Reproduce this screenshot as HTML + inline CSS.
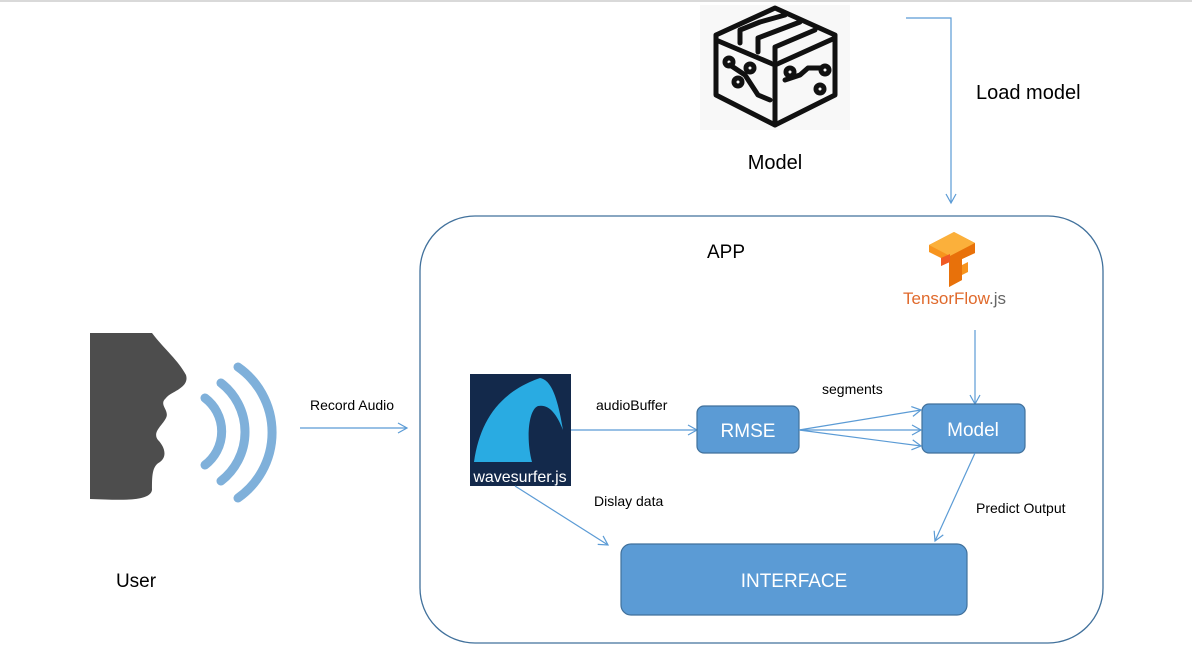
<!DOCTYPE html>
<html><head><meta charset="utf-8"><style>
html,body{margin:0;padding:0;background:#fff;width:1192px;height:667px;overflow:hidden}
text{font-family:"Liberation Sans",sans-serif}
</style></head><body>
<svg width="1192" height="667" viewBox="0 0 1192 667" xmlns="http://www.w3.org/2000/svg">
<defs>
<marker id="a" markerWidth="12" markerHeight="12" refX="10" refY="6" orient="auto" markerUnits="userSpaceOnUse">
<path d="M1,1 L10,6 L1,11" fill="none" stroke="#5b9bd5" stroke-width="1.2"/></marker>
</defs>
<line x1="0" y1="1" x2="1192" y2="1" stroke="#d9d9d9" stroke-width="2"/>
<!-- model icon -->
<rect x="700" y="5" width="150" height="125" fill="#f8f8f8"/>
<g fill="none" stroke="#111" stroke-width="5" stroke-linejoin="round" stroke-linecap="round">
<path d="M775,8 L835,35 L835,95 L775,125 L716,95 L716,35 Z"/>
<path d="M716,40 L775,65 L835,38"/><path d="M775,65 L775,125"/>
<path d="M740,43 L740,30 L760,22 L785,15"/><path d="M758,52 L758,38 L800,22"/><path d="M775,60 L775,47 L815,30"/>
<path d="M730,65 L745,75 L758,95 L770,100"/><circle cx="738" cy="82" r="4"/><circle cx="729" cy="62" r="4"/><circle cx="750" cy="68" r="4"/>
<path d="M785,80 L800,75 L808,68 L820,68"/><circle cx="790" cy="72" r="4"/><circle cx="820" cy="89" r="4"/><circle cx="825" cy="70" r="4"/>
</g>
<text x="775" y="169" font-size="20" text-anchor="middle" fill="#000">Model</text>
<polyline points="906,18 951,18 951,203" fill="none" stroke="#5b9bd5" stroke-width="1.2" marker-end="url(#a)"/>
<text x="976" y="99" font-size="20" fill="#000">Load model</text>
<!-- APP -->
<rect x="420" y="216" width="683" height="427" rx="55" fill="none" stroke="#41719c" stroke-width="1.3"/>
<text x="726" y="258" font-size="19" text-anchor="middle" fill="#000">APP</text>
<!-- tensorflow -->
<g>
<path d="M929,245 L954,232 L975,243 L975,253 L962,259 L962,265 L968,262 L968,272 L962,275 L962,280 L949,287 L949,262 L941,266 L941,258 L929,252 Z" fill="#f7941e"/>
<path d="M929,245 L954,232 L975,243 L950,256 Z" fill="#fbb03b"/>
<path d="M950,256 L975,243 L975,253 L962,259 L962,280 L949,287 L949,257 Z" fill="#e8710a"/>
<path d="M941,258 L950,254 L950,262 L941,266 Z" fill="#f15a24"/>
</g>
<text x="903" y="304" font-size="17" fill="#e06a2c">TensorFlow<tspan fill="#666">.js</tspan></text>
<line x1="975" y1="330" x2="975" y2="404" stroke="#5b9bd5" stroke-width="1.2" marker-end="url(#a)"/>
<!-- user -->
<path d="M90,333 L152,333 C165,350 178,360 186,375 C190,388 170,392 166,398 C158,405 170,410 166,418 C162,426 152,432 158,440 C164,446 168,456 160,462 C152,466 152,476 152,490 C150,502 120,500 90,499 Z" fill="#4d4d4d"/>
<g fill="none" stroke="#7fb0da" stroke-width="9" stroke-linecap="round">
<path d="M205,398 A42,42 0 0 1 205,465"/>
<path d="M221,383 A62,62 0 0 1 221,481"/>
<path d="M238,367 A80,80 0 0 1 238,498"/>
</g>
<text x="136" y="587" font-size="19" text-anchor="middle" fill="#000">User</text>
<line x1="300" y1="428" x2="407" y2="428" stroke="#5b9bd5" stroke-width="1.2" marker-end="url(#a)"/>
<text x="310" y="410" font-size="14" fill="#000">Record Audio</text>
<!-- wavesurfer -->
<rect x="470" y="374" width="101" height="112" fill="#13294b"/>
<path d="M474,462 C480,420 500,392 540,378 C552,380 558,400 563,430 C556,412 548,404 538,406 C528,410 526,440 532,462 Z" fill="#29abe2"/>
<text x="520" y="482" font-size="16" text-anchor="middle" fill="#fff">wavesurfer.js</text>
<line x1="571" y1="430" x2="697" y2="430" stroke="#5b9bd5" stroke-width="1.2" marker-end="url(#a)"/>
<text x="596" y="410" font-size="14" fill="#000">audioBuffer</text>
<rect x="697" y="406" width="102" height="47" rx="7" fill="#5b9bd5" stroke="#41719c" stroke-width="1.2"/>
<text x="748" y="437" font-size="19" text-anchor="middle" fill="#fff">RMSE</text>
<line x1="799" y1="430" x2="921" y2="410" stroke="#5b9bd5" stroke-width="1.2" marker-end="url(#a)"/>
<line x1="799" y1="430" x2="921" y2="430" stroke="#5b9bd5" stroke-width="1.2" marker-end="url(#a)"/>
<line x1="799" y1="430" x2="921" y2="446" stroke="#5b9bd5" stroke-width="1.2" marker-end="url(#a)"/>
<text x="822" y="394" font-size="14" fill="#000">segments</text>
<rect x="922" y="404" width="103" height="49" rx="7" fill="#5b9bd5" stroke="#41719c" stroke-width="1.2"/>
<text x="973" y="436" font-size="19" text-anchor="middle" fill="#fff">Model</text>
<line x1="975" y1="453" x2="935" y2="541" stroke="#5b9bd5" stroke-width="1.2" marker-end="url(#a)"/>
<text x="976" y="513" font-size="14" fill="#000">Predict Output</text>
<line x1="515" y1="486" x2="608" y2="545" stroke="#5b9bd5" stroke-width="1.2" marker-end="url(#a)"/>
<text x="594" y="506" font-size="14" fill="#000">Dislay data</text>
<rect x="621" y="544" width="346" height="71" rx="10" fill="#5b9bd5" stroke="#41719c" stroke-width="1.2"/>
<text x="794" y="587" font-size="19" text-anchor="middle" fill="#fff">INTERFACE</text>
</svg>
</body></html>
